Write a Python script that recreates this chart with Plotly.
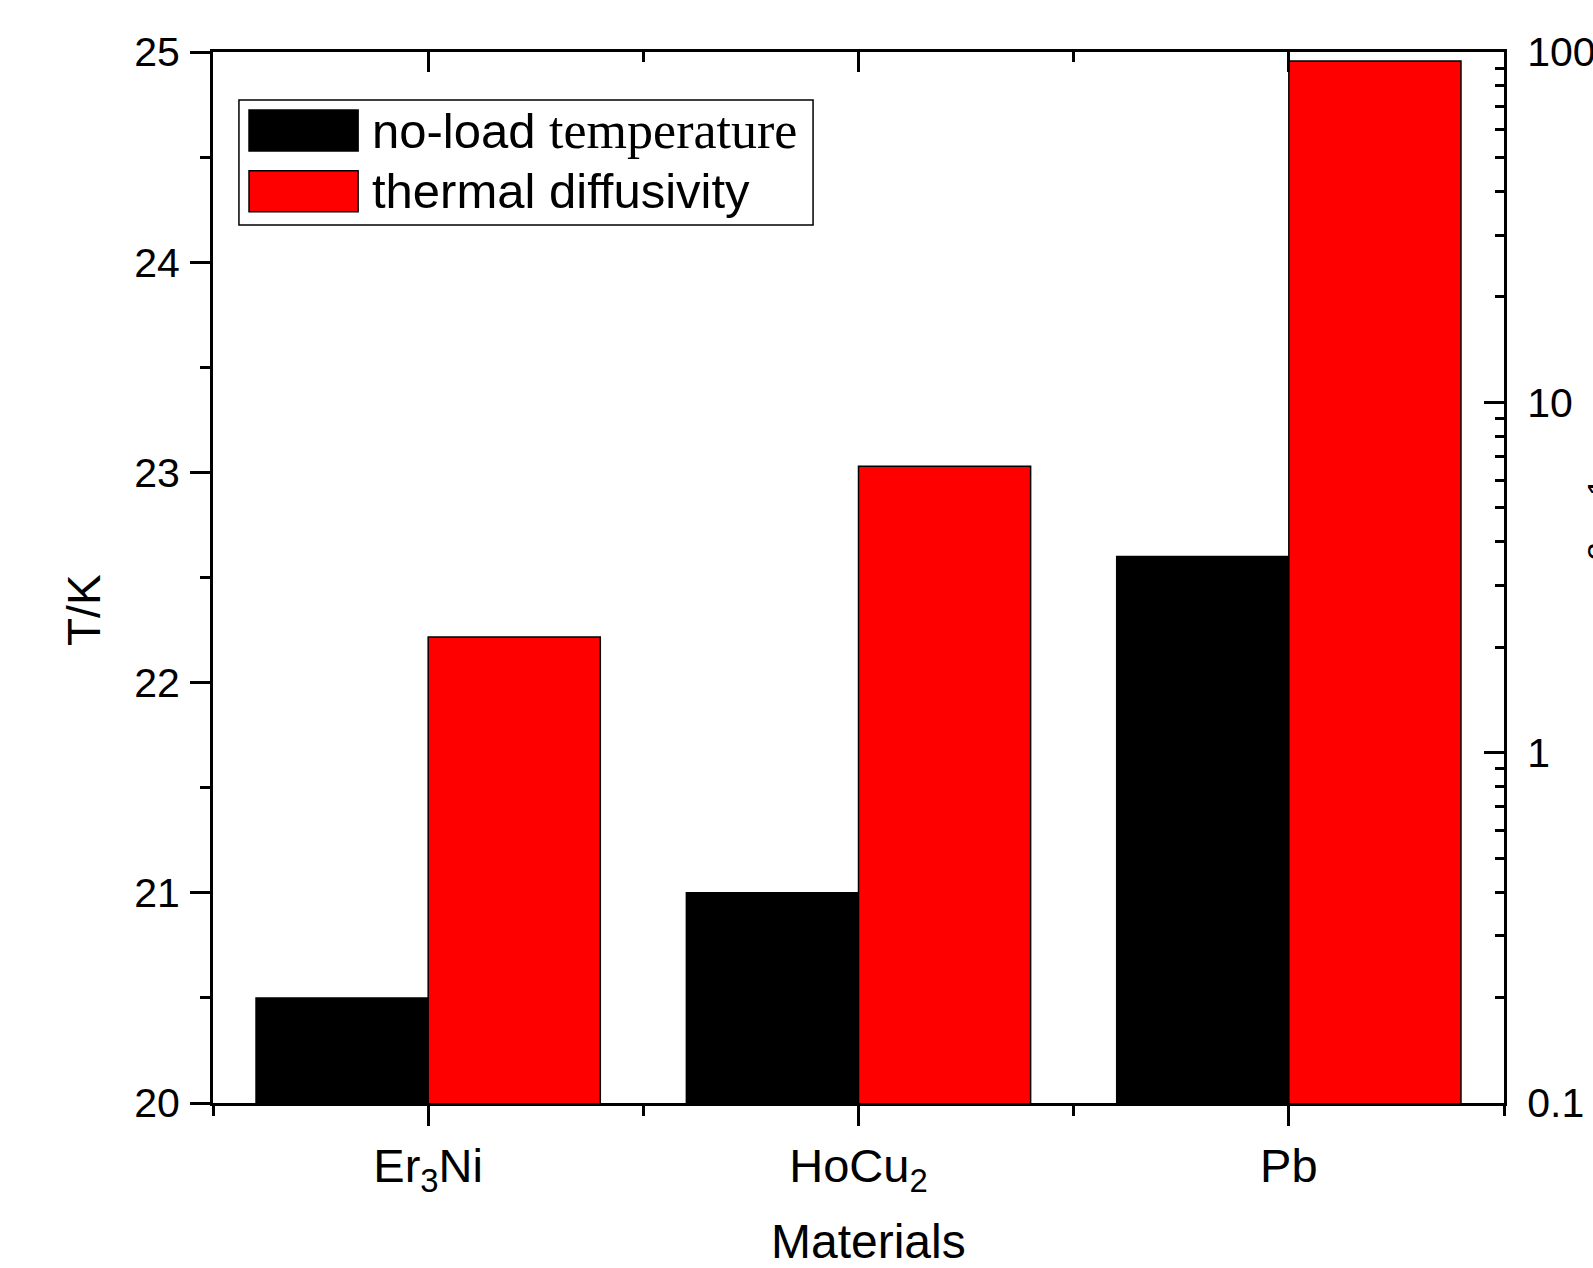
import plotly.graph_objects as go

# ---- data ----
categories = ["Er<sub>3</sub>Ni", "HoCu<sub>2</sub>", "Pb"]
no_load_temperature = [20.5, 21.0, 22.6]      # T/K (left axis)
thermal_diffusivity = [2.14, 6.57, 94.2]      # right log axis
left_ticks = [20, 21, 22, 23, 24, 25]
right_ticks = [0.1, 1, 10, 100]
right_tick_text = ["0.1", "1", "10", "100"]

FONT = "Liberation Sans, Arial, sans-serif"
idx = list(range(len(categories)))
x_minor = [i - 0.5 for i in idx] + [idx[-1] + 0.5]
log_minor = [m * 10 ** e for e in (-1, 0, 1) for m in range(2, 10)]

fig = go.Figure()
fig.add_trace(go.Bar(
    x=idx, y=no_load_temperature, name="no-load temperature",
    width=0.4, offset=-0.4,
    marker=dict(color="#000000", line=dict(color="#000000", width=1.5)),
    xaxis="x", yaxis="y", showlegend=False,
))
fig.add_trace(go.Bar(
    x=idx, y=thermal_diffusivity, name="thermal diffusivity",
    width=0.4, offset=0.0,
    marker=dict(color="#ff0000", line=dict(color="#000000", width=1.5)),
    xaxis="x2", yaxis="y2", showlegend=False,
))

axis_common = dict(showline=True, linecolor="black", linewidth=3, showgrid=False,
                   zeroline=False, tickcolor="black", tickwidth=3)

fig.update_layout(
    width=1593, height=1268,
    margin=dict(l=213, r=89, t=52, b=165),
    paper_bgcolor="white", plot_bgcolor="white",
    font=dict(family=FONT, color="black"),
    barmode="overlay",
    xaxis=dict(
        **axis_common, range=[-0.5, 2.5], tickmode="array", tickvals=idx, ticktext=categories,
        ticks="outside", ticklen=20, tickfont=dict(size=47),
        minor=dict(tickvals=x_minor, ticks="outside", ticklen=10, tickwidth=3, tickcolor="black"),
        automargin=False,
    ),
    xaxis2=dict(
        **axis_common, range=[-0.5, 2.5], overlaying="x", side="top", anchor="y2",
        tickmode="array", tickvals=idx, showticklabels=False,
        ticks="inside", ticklen=20,
        minor=dict(tickvals=x_minor, ticks="inside", ticklen=10, tickwidth=3, tickcolor="black"),
    ),
    yaxis=dict(
        **axis_common, range=[20, 25], tickmode="array",
        tickvals=left_ticks, ticktext=[str(t) for t in left_ticks],
        ticks="outside", ticklen=20, tickfont=dict(size=41), ticklabelstandoff=2,
        minor=dict(dtick=0.5, ticks="outside", ticklen=10, tickwidth=3, tickcolor="black"),
        automargin=False,
    ),
    yaxis2=dict(
        **axis_common, type="log", range=[-1, 2], overlaying="y", side="right", anchor="x2",
        tickmode="array", tickvals=right_ticks, ticktext=right_tick_text,
        ticks="inside", ticklen=20, tickfont=dict(size=41), ticklabelstandoff=12,
        minor=dict(tickvals=log_minor, ticks="inside", ticklen=9, tickwidth=3, tickcolor="black"),
        automargin=False,
    ),
)

# axis titles
fig.add_annotation(text="Materials", xref="paper", yref="paper", x=0.508, y=-0.105,
                   xanchor="center", yanchor="top", showarrow=False,
                   font=dict(size=48, family=FONT))
fig.add_annotation(text="T/K", textangle=-90, xref="paper", yref="paper", x=-0.1, y=0.469,
                   xanchor="center", yanchor="middle", showarrow=False,
                   font=dict(size=46, family=FONT))
# right axis title (partly outside the page, as in the reference)
fig.add_annotation(
    text="α/mm<sup>2</sup> s<sup>-1</sup>", textangle=-90,
    xref="paper", yref="paper", x=1.058, y=0.5, xanchor="left", yanchor="middle",
    showarrow=False, font=dict(size=46, family=FONT),
)

# legend drawn as box + swatches + labels
legend_items = [
    ("no-load <span style=\"font-family:'Liberation Serif', 'Times New Roman', serif; font-size:52px\">temperature</span>", "#000000", 0.9252),
    ("thermal diffusivity", "#ff0000", 0.8676),
]
fig.add_shape(type="rect", xref="paper", yref="paper", x0=0.0201, x1=0.4648, y0=0.8354, y1=0.9543,
              line=dict(color="black", width=1.5), fillcolor="white", layer="above")
for label, color, yc in legend_items:
    fig.add_shape(type="rect", xref="paper", yref="paper", x0=0.0279, x1=0.1124,
                  y0=yc - 0.0195, y1=yc + 0.0195, line=dict(color="black", width=1.5),
                  fillcolor=color, layer="above")
    fig.add_annotation(text=label, xref="paper", yref="paper", x=0.1218, y=yc,
                       xanchor="left", yanchor="middle", showarrow=False,
                       font=dict(size=49, family=FONT))

fig.write_html("out.html")
